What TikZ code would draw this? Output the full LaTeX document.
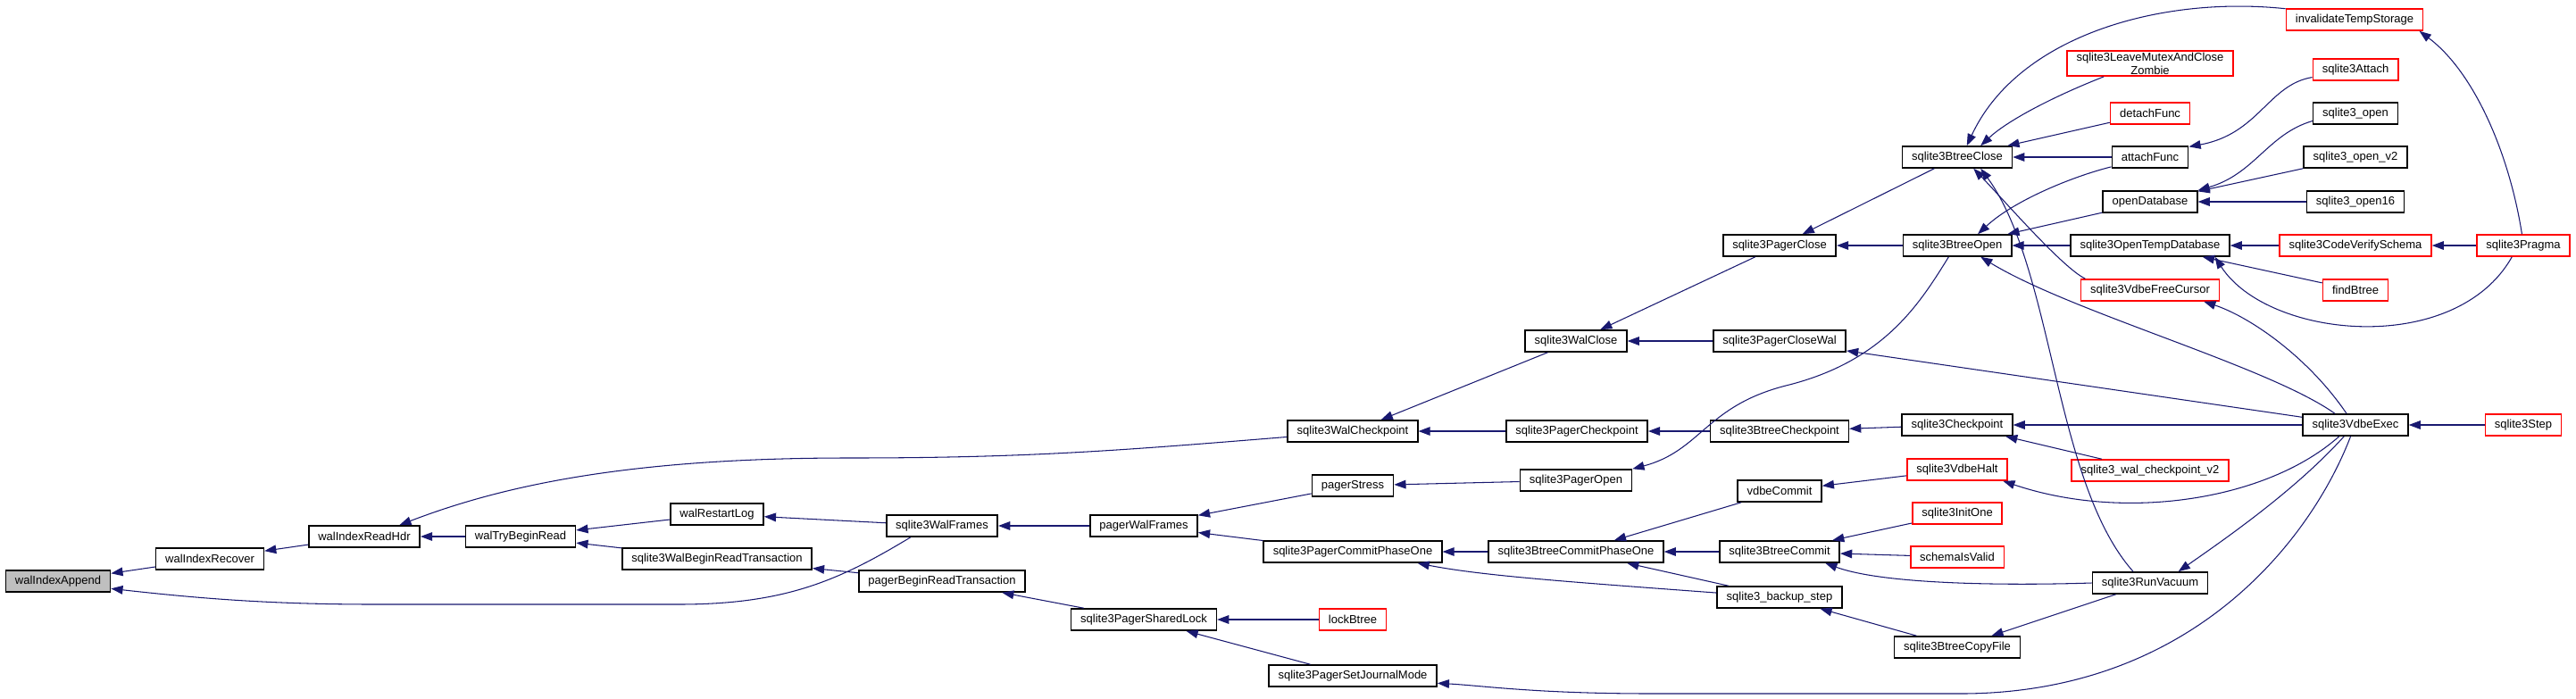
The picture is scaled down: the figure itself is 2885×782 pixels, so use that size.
\documentclass[tikz,border=0pt]{standalone}
\usepackage{fontspec}
\setmainfont{Liberation Sans}
\usepackage{tikz}
\usetikzlibrary{arrows.meta}
\definecolor{edgeblue}{RGB}{25,25,112}

\begin{document}
\begin{tikzpicture}[
  x=0.02cm, y=-0.02cm,
  fn/.style={rectangle, draw=black, line width=0.9pt, fill=white, minimum height=0.48cm, inner xsep=0.21cm, inner ysep=1pt, font=\fontsize{7.4}{8.6}\selectfont, align=center},
  fnred/.style={fn, draw=red},
  fnmain/.style={fn, fill=black!25},
  arr/.style={-{Triangle[length=7.5pt,width=5.5pt]}, edgeblue, line width=0.6pt}
]
  \useasboundingbox (0,0) rectangle (2885,782);

  \node[fnmain] (append) at (65,651) {walIndexAppend};
  \node[fn] (recover) at (235,626) {walIndexRecover};
  \node[fn] (readhdr) at (408,601) {walIndexReadHdr};
  \node[fn] (trybegin) at (583,601) {walTryBeginRead};
  \node[fn] (restartlog) at (803,576) {walRestartLog};
  \node[fn] (walbeginread) at (803,626) {sqlite3WalBeginReadTransaction};
  \node[fn] (walframes) at (1055,589) {sqlite3WalFrames};
  \node[fn] (pagerbeginread) at (1055,651) {pagerBeginReadTransaction};
  \node[fn] (pagerwalframes) at (1281,589) {pagerWalFrames};
  \node[fn] (sharedlock) at (1281,694) {sqlite3PagerSharedLock};
  \node[fn] (walckpt) at (1515,483) {sqlite3WalCheckpoint};
  \node[fn] (pagerstress) at (1515,544) {pagerStress};
  \node[fn] (commitone) at (1515,618) {sqlite3PagerCommitPhaseOne};
  \node[fnred] (lockbtree) at (1515,694) {lockBtree};
  \node[fn] (journalmode) at (1515,757) {sqlite3PagerSetJournalMode};
  \node[fn] (walclose) at (1765,382) {sqlite3WalClose};
  \node[fn] (pagerckpt) at (1766,483) {sqlite3PagerCheckpoint};
  \node[fn] (pageropen) at (1765,538) {sqlite3PagerOpen};
  \node[fn] (btcommitone) at (1765,618) {sqlite3BtreeCommitPhaseOne};
  \node[fn] (pagerclose) at (1993,275) {sqlite3PagerClose};
  \node[fn] (closewal) at (1993,382) {sqlite3PagerCloseWal};
  \node[fn] (btckpt) at (1993,483) {sqlite3BtreeCheckpoint};
  \node[fn] (vdbecommit) at (1993,550) {vdbeCommit};
  \node[fn] (btcommit) at (1993,618) {sqlite3BtreeCommit};
  \node[fn] (backupstep) at (1993,669) {sqlite3\_backup\_step};
  \node[fn] (btclose) at (2192,176) {sqlite3BtreeClose};
  \node[fn] (btopen) at (2192,275) {sqlite3BtreeOpen};
  \node[fn] (ckpt) at (2192,476) {sqlite3Checkpoint};
  \node[fnred] (vdbehalt) at (2192,526) {sqlite3VdbeHalt};
  \node[fnred] (initone) at (2192,575) {sqlite3InitOne};
  \node[fnred] (schemavalid) at (2192,624) {schemaIsValid};
  \node[fn] (copyfile) at (2192,725) {sqlite3BtreeCopyFile};
  \node[fnred] (zombie) at (2408,71) {sqlite3LeaveMutexAndClose\\Zombie};
  \node[fnred] (detach) at (2408,127) {detachFunc};
  \node[fn] (attach) at (2408,176) {attachFunc};
  \node[fn] (opendb) at (2408,226) {openDatabase};
  \node[fn] (opentemp) at (2408,275) {sqlite3OpenTempDatabase};
  \node[fnred] (freecursor) at (2408,325) {sqlite3VdbeFreeCursor};
  \node[fnred] (walckptv) at (2408,527) {sqlite3\_wal\_checkpoint\_v2};
  \node[fn] (runvacuum) at (2408,653) {sqlite3RunVacuum};
  \node[fnred] (invtemp) at (2637,22) {invalidateTempStorage};
  \node[fnred] (sqlattach) at (2638,78) {sqlite3Attach};
  \node[fn] (open) at (2638,127) {sqlite3\_open};
  \node[fn] (openv) at (2638,176) {sqlite3\_open\_v2};
  \node[fn] (opensixteen) at (2638,226) {sqlite3\_open16};
  \node[fnred] (verifyschema) at (2638,275) {sqlite3CodeVerifySchema};
  \node[fnred] (findbtree) at (2638,325) {findBtree};
  \node[fn] (vdbeexec) at (2638,476) {sqlite3VdbeExec};
  \node[fnred] (pragma) at (2826,275) {sqlite3Pragma};
  \node[fnred] (sqlstep) at (2826,476) {sqlite3Step};

  \draw[arr] (recover) -- (append);
  \draw[arr] (walframes.200) .. controls (940,650) and (880,677) .. (760,677) -- (420,677) .. controls (300,677) and (220,670) .. (append.-8);
  \draw[arr] (readhdr) -- (recover);
  \draw[arr] (trybegin) -- (readhdr);
  \draw[arr] (walckpt.185) .. controls (1250,505) and (1150,513) .. (950,513) .. controls (700,513) and (560,545) .. (readhdr.18);
  \draw[arr] (restartlog) -- (trybegin);
  \draw[arr] (walbeginread) -- (trybegin);
  \draw[arr] (walframes) -- (restartlog);
  \draw[arr] (pagerbeginread) -- (walbeginread);
  \draw[arr] (pagerwalframes) -- (walframes);
  \draw[arr] (sharedlock) -- (pagerbeginread);
  \draw[arr] (pagerstress) -- (pagerwalframes);
  \draw[arr] (commitone) -- (pagerwalframes);
  \draw[arr] (lockbtree) -- (sharedlock);
  \draw[arr] (journalmode) -- (sharedlock);
  \draw[arr] (walclose) -- (walckpt);
  \draw[arr] (pagerckpt) -- (walckpt);
  \draw[arr] (pagerclose) -- (walclose);
  \draw[arr] (closewal) -- (walclose);
  \draw[arr] (btclose) -- (pagerclose);
  \draw[arr] (btopen) -- (pagerclose);
  \draw[arr] (btckpt) -- (pagerckpt);
  \draw[arr] (ckpt) -- (btckpt);
  \draw[arr] (btopen.233) .. controls (2150,340) and (2110,405) .. (2000,432) .. controls (1910,455) and (1905,505) .. (pageropen.north east);
  \draw[arr] (pageropen) -- (pagerstress);
  \draw[arr] (btcommitone) -- (commitone);
  \draw[arr] (backupstep.176) .. controls (1760,652) and (1660,645) .. (commitone.-10);
  \draw[arr] (vdbecommit) -- (btcommitone);
  \draw[arr] (btcommit) -- (btcommitone);
  \draw[arr] (backupstep) -- (btcommitone);
  \draw[arr] (vdbehalt) -- (vdbecommit);
  \draw[arr] (initone) -- (btcommit);
  \draw[arr] (schemavalid) -- (btcommit);
  \draw[arr] (runvacuum.west) .. controls (2250,656) and (2110,655) .. (btcommit.-14);
  \draw[arr] (copyfile) -- (backupstep);
  \draw[arr] (runvacuum) -- (copyfile);
  \draw[arr] (vdbeexec.247) .. controls (2590,600) and (2460,775) .. (2200,777) -- (1850,777) .. controls (1720,777) and (1660,768) .. (journalmode.-5);
  \draw[arr] (invtemp.171) .. controls (2420,-5) and (2260,40) .. (btclose.50);
  \draw[arr] (zombie.196) .. controls (2290,112) and (2245,138) .. (btclose.26);
  \draw[arr] (detach) -- (btclose);
  \draw[arr] (attach) -- (btclose);
  \draw[arr] (freecursor.170) .. controls (2310,300) and (2245,225) .. (btclose.-35);
  \draw[arr] (runvacuum.146) .. controls (2300,540) and (2300,300) .. (btclose.-26);
  \draw[arr] (attach.194) .. controls (2320,198) and (2255,225) .. (btopen.29);
  \draw[arr] (opendb) -- (btopen);
  \draw[arr] (opentemp) -- (btopen);
  \draw[arr] (vdbeexec.151) .. controls (2540,410) and (2320,350) .. (btopen.-26);
  \draw[arr] (vdbeexec.128) .. controls (2585,400) and (2520,355) .. (freecursor.-12);
  \draw[arr] (open.190) .. controls (2540,150) and (2525,195) .. (opendb.north east);
  \draw[arr] (openv) -- (opendb);
  \draw[arr] (opensixteen) -- (opendb);
  \draw[arr] (sqlattach.190) .. controls (2540,95) and (2530,150) .. (attach.15);
  \draw[arr] (verifyschema) -- (opentemp);
  \draw[arr] (findbtree) -- (opentemp);
  \draw[arr] (pragma.225) .. controls (2750,400) and (2540,380) .. (opentemp.-10);
  \draw[arr] (pragma) -- (verifyschema);
  \draw[arr] (pragma.97) .. controls (2810,170) and (2770,80) .. (invtemp.-10);
  \draw[arr] (vdbeexec) -- (closewal);
  \draw[arr] (vdbeexec) -- (ckpt);
  \draw[arr] (walckptv) -- (ckpt);
  \draw[arr] (vdbeexec.215) .. controls (2540,560) and (2380,585) .. (vdbehalt.-14);
  \draw[arr] (vdbeexec.225) .. controls (2570,550) and (2490,605) .. (runvacuum.22);
  \draw[arr] (sqlstep) -- (vdbeexec);
\end{tikzpicture}
\end{document}
